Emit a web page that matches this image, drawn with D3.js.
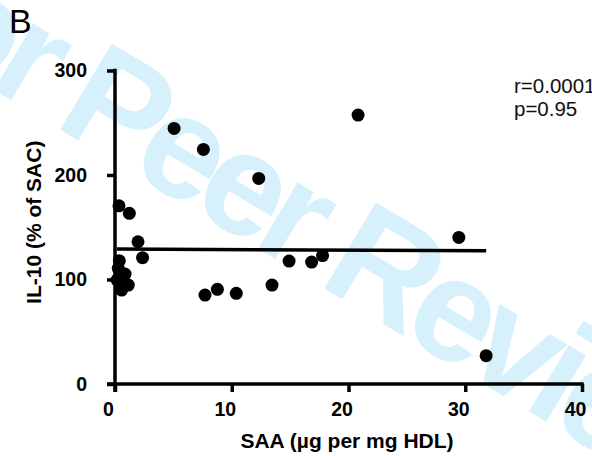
<!DOCTYPE html>
<html>
<head>
<meta charset="utf-8">
<script src="https://cdn.jsdelivr.net/npm/d3@7"></script>
<style>
  html, body { margin: 0; padding: 0; background: #fff; }
  svg { display: block; }
  text { font-family: "Liberation Sans", Arial, Helvetica, sans-serif; }
</style>
</head>
<body>
<svg id="chart" width="592" height="456"></svg>
<script>
// SAA content of HDL (µg per mg HDL) for each subject
const saa = [0.17, 0.28, 0.34, 0.37, 0.57, 0.57, 0.86, 1.14, 1.23, 1.97, 2.36,
             5.06, 7.57, 7.71, 8.77, 10.39, 12.31, 13.45, 14.91, 16.84, 17.78,
             20.82, 29.45, 31.79];
// IL-10 response (% of SAC) for the same subjects
const il10 = [99.5, 110.7, 170.5, 117.9, 99.5, 89.9, 105.2, 94.7, 163.3, 136.1, 120.8,
              244.6, 224.5, 85.1, 90.6, 86.8, 196.7, 94.7, 117.6, 116.7, 122.9,
              257.3, 140.3, 27.1];

const xTicks = [0, 10, 20, 30, 40];
const yTicks = [0, 100, 200, 300];

// linear fit (intercept, slope) and correlation statistics
const fitIntercept = 129.3;
const fitSlope = -0.06;
const statLines = ["r=0.0001", "p=0.95"];

const svg = d3.select("#chart");
const ink = "#000";

// faint diagonal review stamp behind the plot
svg.append("text")
  .attr("transform", "translate(-151,3) rotate(31)")
  .attr("font-size", 146)
  .attr("font-weight", "bold")
  .style("letter-spacing", "-9.8px")
  .attr("fill", "#d6f0fc")
  .text("For Peer Review");

// panel letter
svg.append("text")
  .attr("x", 9).attr("y", 33)
  .attr("font-size", 34)
  .attr("fill", ink)
  .text("B");

const x = d3.scaleLinear().domain([0, 40]).range([115, 582]);
const y = d3.scaleLinear().domain([0, 300]).range([384, 70.5]);

const axisWidth = 3.5;

// x axis
const gx = svg.append("g").attr("transform", `translate(0,${y(0)})`)
  .call(d3.axisBottom(x).tickValues(xTicks).tickSize(8).tickSizeOuter(0).tickPadding(10));
gx.select(".domain").attr("stroke", ink).attr("stroke-width", axisWidth)
  .attr("d", `M${x(0) - 8},0H${x(40) + axisWidth / 2}`);
gx.selectAll(".tick line").attr("stroke", ink).attr("stroke-width", axisWidth);
gx.selectAll(".tick text")
  .attr("fill", ink).attr("font-size", 19.5).attr("font-weight", "bold")
  .attr("font-family", "Liberation Sans, Arial, sans-serif")
  .attr("x", -7).attr("dy", "0.71em");

// y axis
const gy = svg.append("g").attr("transform", `translate(${x(0)},0)`)
  .call(d3.axisLeft(y).tickValues(yTicks).tickSize(8).tickSizeOuter(0).tickPadding(20));
gy.select(".domain").attr("stroke", ink).attr("stroke-width", axisWidth)
  .attr("d", `M0,${y(300) - axisWidth / 2}V${y(0) + 8}`);
gy.selectAll(".tick line").attr("stroke", ink).attr("stroke-width", axisWidth);
gy.selectAll(".tick text")
  .attr("fill", ink).attr("font-size", 19.5).attr("font-weight", "bold")
  .attr("font-family", "Liberation Sans, Arial, sans-serif");

// axis titles
svg.append("text")
  .attr("x", 347).attr("y", 448)
  .attr("text-anchor", "middle")
  .attr("font-size", 21).attr("font-weight", "bold")
  .attr("fill", ink)
  .text("SAA (µg per mg HDL)");

svg.append("text")
  .attr("transform", `translate(41,${(y(0) + y(300)) / 2 - 5}) rotate(-90)`)
  .attr("text-anchor", "middle")
  .attr("font-size", 21).attr("font-weight", "bold")
  .attr("fill", ink)
  .text("IL-10 (% of SAC)");

// regression line over the observed SAA range
const [xMin, xMax] = d3.extent(saa);
svg.append("line")
  .attr("x1", x(xMin)).attr("y1", y(fitIntercept + fitSlope * xMin))
  .attr("x2", x(xMax)).attr("y2", y(fitIntercept + fitSlope * xMax))
  .attr("stroke", ink).attr("stroke-width", 3.5);

// subjects
svg.append("g").selectAll("circle")
  .data(saa.map((v, i) => [v, il10[i]]))
  .join("circle")
  .attr("cx", d => x(d[0]))
  .attr("cy", d => y(d[1]))
  .attr("r", 6.5)
  .attr("fill", ink);

// correlation statistics
svg.append("g").selectAll("text")
  .data(statLines)
  .join("text")
  .attr("x", 514)
  .attr("y", (d, i) => 93 + i * 23)
  .attr("font-size", 20.5)
  .attr("fill", "#111")
  .text(d => d);
</script>
</body>
</html>
